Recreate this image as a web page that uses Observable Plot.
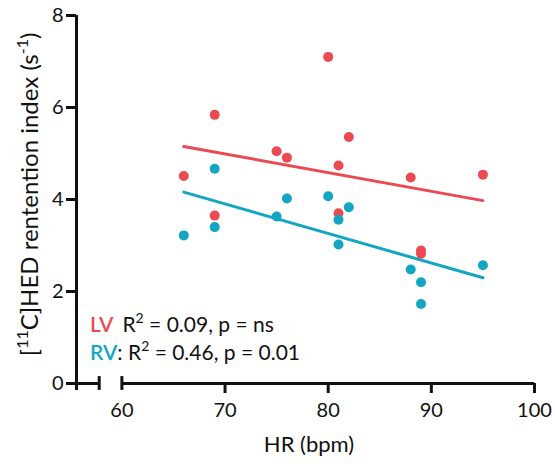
<!DOCTYPE html>
<html><head><meta charset="utf-8">
<script src="https://cdn.jsdelivr.net/npm/d3@7"></script>
<script src="https://cdn.jsdelivr.net/npm/@observablehq/plot@0.6"></script>
<style>
body{margin:0;background:#fff;}
#chart svg{display:block;}
</style>
</head><body><div id="chart"></div>
<script>
// Heart rate (bpm) and [11C]HED retention index (s^-1)
const lvHR  = [66, 69, 69, 75, 76, 80, 81, 81, 82, 88, 89, 89, 95];
const lvIdx = [4.51, 5.84, 3.65, 5.05, 4.91, 7.10, 4.74, 3.70, 5.36, 4.48, 2.89, 2.82, 4.54];
const rvHR  = [66, 69, 69, 75, 76, 80, 81, 81, 82, 88, 89, 89, 95];
const rvIdx = [3.22, 4.67, 3.40, 3.63, 4.02, 4.07, 3.56, 3.02, 3.83, 2.48, 2.20, 1.73, 2.57];
const xTicks = [60, 70, 80, 90, 100];
const yTicks = [0, 2, 4, 6, 8];
const legendLV = {name: "LV", stat: " = 0.09, p = ns"};
const legendRV = {name: "RV", stat: " = 0.46, p = 0.01"};

const RED = "#EC4A53", TEAL = "#12A6C2", INK = "#111";
const FONT = "Lato, 'Open Sans', sans-serif";

const lv = lvHR.map((x, i) => ({x, y: lvIdx[i]}));
const rv = rvHR.map((x, i) => ({x, y: rvIdx[i]}));

const xMin = 55.6, breakAt = 57.8;

const plot = Plot.plot({
  width: 555, height: 464,
  marginLeft: 76, marginRight: 21, marginTop: 15, marginBottom: 81,
  style: {fontFamily: FONT, fontSize: "20px", color: INK, background: "#fff"},
  x: {domain: [xMin, 100], axis: null},
  y: {domain: [0, 8], axis: null},
  marks: [
    Plot.linearRegressionY(lv, {x: "x", y: "y", stroke: RED, strokeWidth: 3, ci: 0}),
    Plot.linearRegressionY(rv, {x: "x", y: "y", stroke: TEAL, strokeWidth: 3, ci: 0}),
    Plot.dot(lv, {x: "x", y: "y", r: 5, fill: RED}),
    Plot.dot(rv, {x: "x", y: "y", r: 5, fill: TEAL}),
    // y axis
    Plot.ruleX([xMin], {y1: -0.15, y2: 8, stroke: INK, strokeWidth: 3}),
    Plot.axisY({ticks: yTicks, tickSize: 10, tickPadding: 3, strokeWidth: 3, label: null, fontSize: 20, fill: INK}),
    // broken x axis
    Plot.ruleY([0], {x1: xMin, x2: breakAt, stroke: INK, strokeWidth: 3}),
    Plot.ruleY([0], {x1: 60, x2: 100, stroke: INK, strokeWidth: 3}),
    Plot.ruleX([breakAt, 60], {y1: -0.15, y2: 0.15, stroke: INK, strokeWidth: 3}),
    Plot.axisX({ticks: xTicks.slice(1), tickSize: 10, tickPadding: 9, strokeWidth: 3, label: null, fontSize: 20, fill: INK}),
    Plot.axisX({ticks: xTicks.slice(0, 1), tickSize: 0, tickPadding: 19, label: null, fontSize: 20, fill: INK})
  ]
});
document.getElementById("chart").appendChild(plot);

const svg = d3.select(plot);
const sx = plot.scale("x").apply, sy = plot.scale("y").apply;

// x-axis label
svg.append("text")
  .attr("x", (sx(xMin) + sx(100)) / 2 + 4).attr("y", 452)
  .attr("text-anchor", "middle")
  .attr("font-family", FONT).attr("font-size", 22).attr("fill", INK)
  .text("HR (bpm)");

// y-axis label with superscripts
const yl = svg.append("text")
  .attr("transform", `translate(38,${sy(4.1)}) rotate(-90)`)
  .attr("text-anchor", "middle")
  .attr("font-family", FONT).attr("font-size", 24).attr("fill", INK);
yl.append("tspan").text("[");
yl.append("tspan").attr("font-size", 16).attr("dy", -10).text("11");
yl.append("tspan").attr("dy", 10).text("C]HED rentention index (s");
yl.append("tspan").attr("font-size", 16).attr("dy", -10).text("-1");
yl.append("tspan").attr("dy", 10).text(")");

// legend
function legend(item, color, colon, yv) {
  const t = svg.append("text")
    .attr("x", 90).attr("y", yv)
    .attr("text-anchor", "start")
    .attr("font-family", FONT).attr("font-size", 21).attr("fill", INK);
  t.append("tspan").attr("fill", color).attr("font-weight", 600).text(item.name);
  if (colon) t.append("tspan").text(": R");
  else t.append("tspan").attr("dx", 9).text("R");
  t.append("tspan").attr("font-size", 14).attr("dy", -9).text("2");
  t.append("tspan").attr("dy", 9).text(item.stat);
}
legend(legendLV, RED, false, 332);
legend(legendRV, TEAL, true, 360);
</script>
</body></html>
